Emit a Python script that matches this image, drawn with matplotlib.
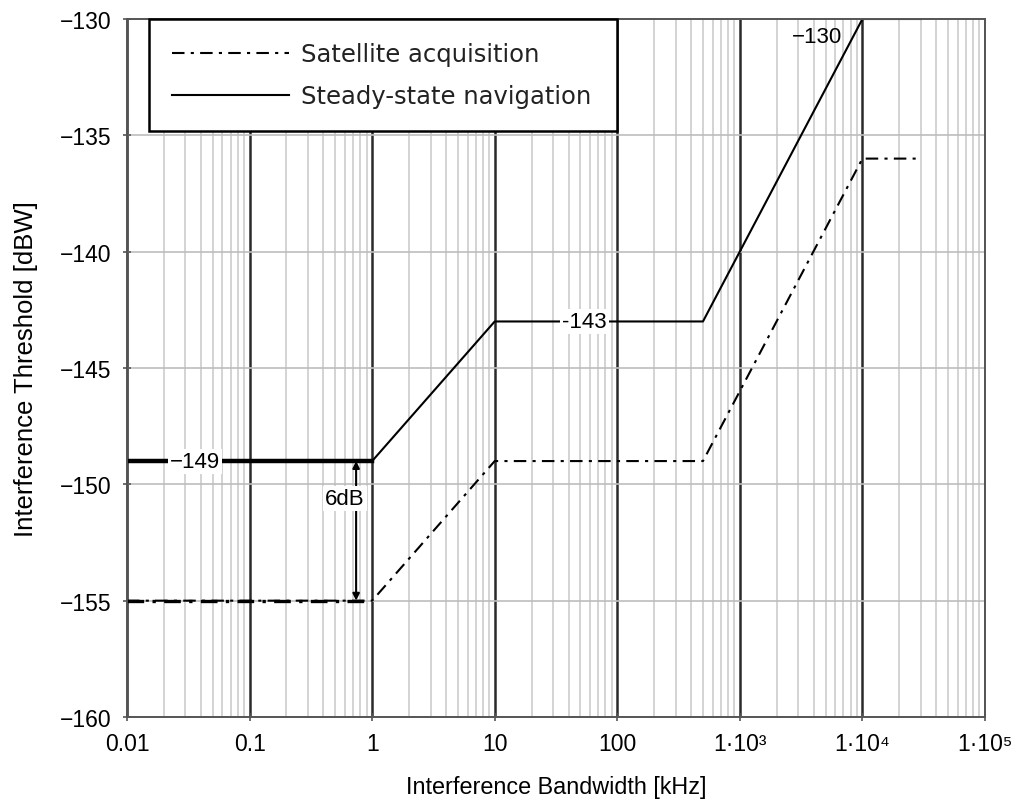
import matplotlib
matplotlib.use("Agg")
import matplotlib.pyplot as plt
from matplotlib.ticker import FixedLocator, LogLocator, NullFormatter

# Data
nav_x = [0.01, 1, 10, 500, 1e4, 3e4]
nav_y = [-149, -149, -143, -143, -130, -130]
acq_x = [0.01, 1, 10, 500, 1e4, 3e4]
acq_y = [-155, -155, -149, -149, -136, -136]
xtick_vals = [0.01, 0.1, 1, 10, 100, 1e3, 1e4, 1e5]
xtick_labels = ["0.01", "0.1", "1", "10", "100", "1·10³", "1·10⁴", "1·10⁵"]
ytick_vals = [-160, -155, -150, -145, -140, -135, -130]
ytick_labels = ["−160", "−155", "−150", "−145", "−140", "−135", "−130"]

plt.rcParams['font.family'] = ['Liberation Sans', 'DejaVu Sans']

fig = plt.figure(figsize=(10.14, 8.04), dpi=100)
ax = fig.add_axes([127/1014, 1-718/804, (985-127)/1014, (718-20)/804])

ax.set_xscale('log')
ax.set_xlim(0.01, 1e5)
ax.set_ylim(-160, -130)

# grid
ax.xaxis.set_major_locator(FixedLocator(xtick_vals))
ax.xaxis.set_minor_locator(LogLocator(base=10, subs=range(2, 10), numticks=100))
ax.xaxis.set_minor_formatter(NullFormatter())
ax.set_xticks(xtick_vals)
ax.set_xticklabels(xtick_labels, fontsize=16.5)
ax.set_yticks(ytick_vals)
ax.set_yticklabels(ytick_labels, fontsize=16.5)
ax.grid(which='major', axis='x', color='#2a2a2a', linewidth=1.8)
ax.grid(which='minor', axis='x', color='#c8c8c8', linewidth=1.1)
ax.grid(which='major', axis='y', color='#bdbdbd', linewidth=1.2)
ax.set_axisbelow(True)
ax.tick_params(axis='both', which='major', direction='inout', length=6,
               color='#555555', width=1.2)
ax.tick_params(axis='x', which='major', pad=8)
ax.tick_params(axis='y', which='major', pad=8)
ax.tick_params(axis='x', which='minor', length=0)
for s in ax.spines.values():
    s.set_color('#555555')
    s.set_linewidth(1.4)

# lines
acq_line, = ax.plot(acq_x, acq_y, color='black', linewidth=1.5,
                    linestyle=(0, (6, 3, 1.5, 3)), label='Satellite acquisition')
nav_line, = ax.plot(nav_x, nav_y, color='black', linewidth=1.5,
                    label='Steady-state navigation')
ax.plot(nav_x[:2], nav_y[:2], color='black', linewidth=3.2)
ax.plot(acq_x[:2], acq_y[:2], color='black', linewidth=2.4,
        linestyle=(0, (5, 2.5, 1, 2.5)))

# annotations
bb = dict(facecolor='white', edgecolor='none', pad=1.5)
ax.text(0.036, -149, "−149", fontsize=16, ha='center', va='center', bbox=bb)
ax.text(54, -143, "-143", fontsize=16, ha='center', va='center', bbox=bb)
ax.text(4.3e3, -130.77, "−130", fontsize=16, ha='center', va='center')
ax.annotate("", xy=(0.74, -149), xytext=(0.74, -155),
            arrowprops=dict(arrowstyle='<|-|>', color='black', lw=1.5,
                            shrinkA=0, shrinkB=0, mutation_scale=10))
ax.text(0.6, -150.6, "6dB", fontsize=16, ha='center', va='center', bbox=bb)

ax.set_xlabel("Interference Bandwidth [kHz]", fontsize=16.8, labelpad=14)
ax.set_ylabel("Interference Threshold [dBW]", fontsize=18.5, labelpad=16)

fs = 17.5
leg = ax.legend(handles=[acq_line, nav_line],
                bbox_to_anchor=((149-127)/858, 1-(137-20)/698, (617-149)/858, (137-20)/698),
                loc='upper left', mode='expand', handlelength=117/(fs*1.389),
                handletextpad=12/(fs*1.389), frameon=True, fancybox=False,
                borderaxespad=0, borderpad=0.95, labelspacing=0.75,
                prop={'family': ['DejaVu Sans'], 'size': fs})
leg.get_frame().set_edgecolor('black')
leg.get_frame().set_linewidth(1.8)
leg.get_frame().set_alpha(1)
for t in leg.get_texts():
    t.set_color('#222222')

fig.savefig("out.png", dpi=100)
